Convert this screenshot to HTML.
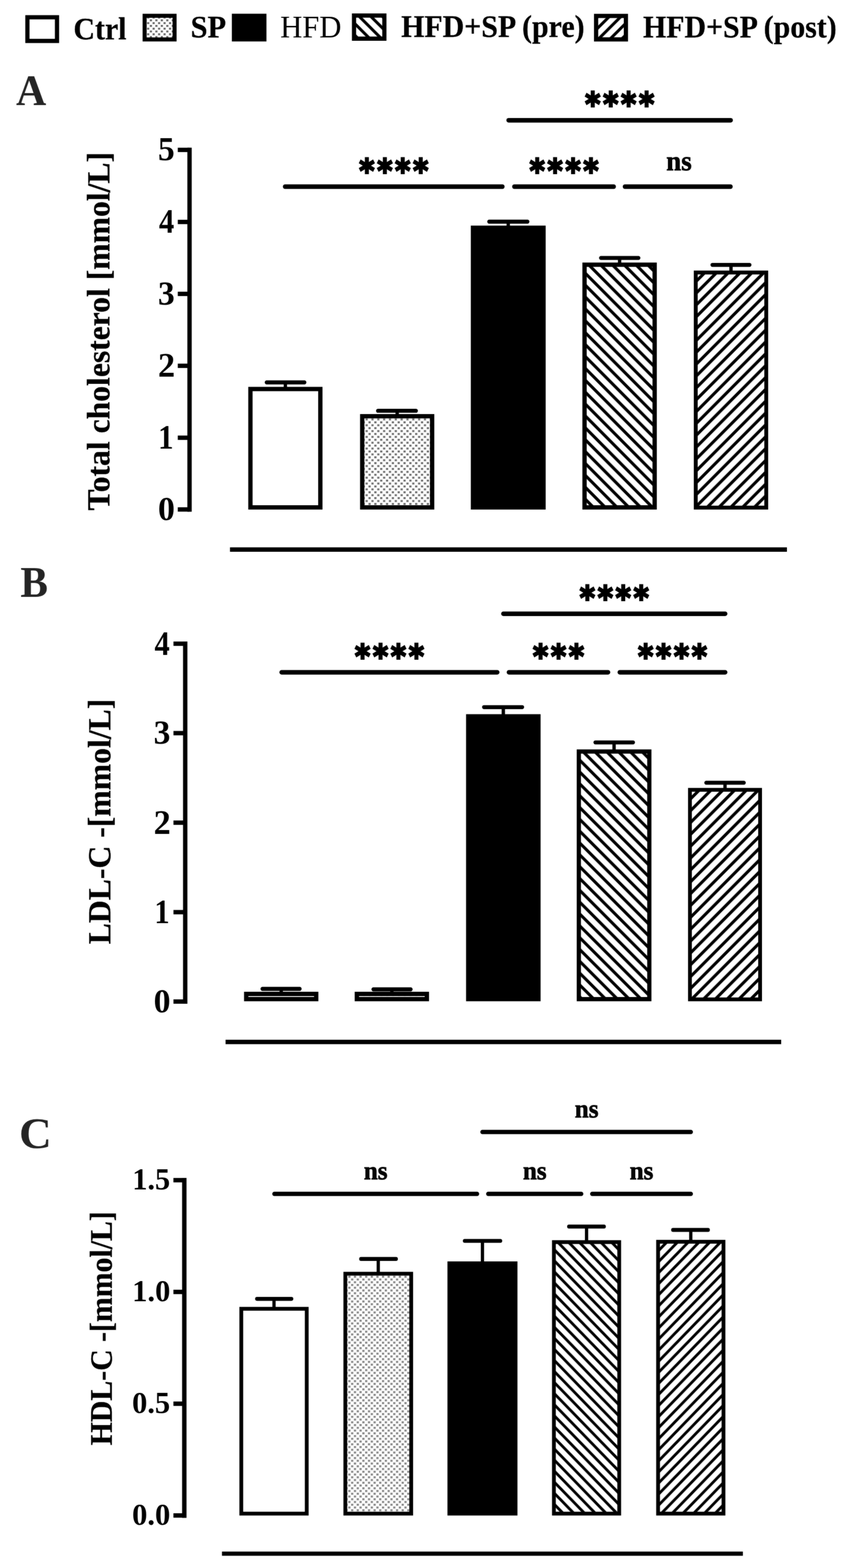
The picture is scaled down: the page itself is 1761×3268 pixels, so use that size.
<!DOCTYPE html>
<html lang="en"><head><meta charset="utf-8"><title>Figure</title>
<style>
html,body{margin:0;padding:0;background:#fff;}
body{width:1761px;height:3268px;overflow:hidden;}
svg{display:block;}
</style></head><body>
<svg width="1761" height="3268" viewBox="0 0 1761 3268">
<defs>

<pattern id="dotsL" width="11.4" height="11.6" patternUnits="userSpaceOnUse" patternTransform="translate(4.45,5.6)"><rect width="11.4" height="11.6" fill="#fff"/><rect width="4.5" height="4.0" fill="#666"/><rect x="5.7" y="5.8" width="4.5" height="4.0" fill="#666"/></pattern>
<pattern id="dotsA" width="12.15" height="12.15" patternUnits="userSpaceOnUse" patternTransform="translate(2.45,3.4)"><rect width="12.15" height="12.15" fill="#fff"/><rect width="4.6" height="4.0" fill="#6a6a6a"/><rect x="6.08" y="6.08" width="4.6" height="4.0" fill="#6a6a6a"/></pattern>
<pattern id="dotsB" width="12.15" height="12.15" patternUnits="userSpaceOnUse" patternTransform="translate(3.05,7.2)"><rect width="12.15" height="12.15" fill="#fff"/><rect width="4.3" height="3.0" fill="#4d4d4d"/><rect x="6.08" y="6.08" width="4.3" height="3.0" fill="#4d4d4d"/></pattern>
<pattern id="dotsC" width="11.7" height="11.45" patternUnits="userSpaceOnUse" patternTransform="translate(0.4,2.5)"><rect width="11.7" height="11.45" fill="#fff"/><rect width="4.6" height="4.2" fill="#858585"/><rect x="5.85" y="5.72" width="4.6" height="4.2" fill="#858585"/></pattern>
<pattern id="h0" width="24.2" height="24.2" patternUnits="userSpaceOnUse" patternTransform="translate(0.7,12.3)"><rect width="24.2" height="24.2" fill="#fff"/><path d="M-24.2,-24.2 L48.4,48.4 M-24.2,0 L24.2,48.4 M0,-24.2 L48.4,24.2" stroke="#000" stroke-width="6"/></pattern>
<pattern id="h1" width="24.2" height="24.2" patternUnits="userSpaceOnUse" patternTransform="translate(8.3,13.4)"><rect width="24.2" height="24.2" fill="#fff"/><path d="M-24.2,24.2 L24.2,-24.2 M-24.2,48.4 L48.4,-24.2 M0,48.4 L48.4,0" stroke="#000" stroke-width="6"/></pattern>
<pattern id="h2" width="24.6" height="24.78" patternUnits="userSpaceOnUse" patternTransform="translate(1.2,11.04)"><rect width="24.6" height="24.78" fill="#fff"/><path d="M-24.6,-24.78 L49.2,49.56 M-24.6,0 L24.6,49.56 M0,-24.78 L49.2,24.78" stroke="#000" stroke-width="6.3"/></pattern>
<pattern id="h3" width="24.6" height="24.7" patternUnits="userSpaceOnUse" patternTransform="translate(13.7,3.9)"><rect width="24.6" height="24.7" fill="#fff"/><path d="M-24.6,24.7 L24.6,-24.7 M-24.6,49.4 L49.2,-24.7 M0,49.4 L49.2,0" stroke="#000" stroke-width="6.3"/></pattern>
<pattern id="h4" width="24.6" height="24.66" patternUnits="userSpaceOnUse" patternTransform="translate(13.8,17.12)"><rect width="24.6" height="24.66" fill="#fff"/><path d="M-24.6,-24.66 L49.2,49.32 M-24.6,0 L24.6,49.32 M0,-24.66 L49.2,24.66" stroke="#000" stroke-width="6.3"/></pattern>
<pattern id="h5" width="24.6" height="24.7" patternUnits="userSpaceOnUse" patternTransform="translate(2.5,19.9)"><rect width="24.6" height="24.7" fill="#fff"/><path d="M-24.6,24.7 L24.6,-24.7 M-24.6,49.4 L49.2,-24.7 M0,49.4 L49.2,0" stroke="#000" stroke-width="6.3"/></pattern>
<pattern id="h6" width="22.4" height="23.07" patternUnits="userSpaceOnUse" patternTransform="translate(1.3,8.86)"><rect width="22.4" height="23.07" fill="#fff"/><path d="M-22.4,-23.07 L44.8,46.14 M-22.4,0 L22.4,46.14 M0,-23.07 L44.8,23.07" stroke="#000" stroke-width="5.8"/></pattern>
<pattern id="h7" width="22.4" height="23.07" patternUnits="userSpaceOnUse" patternTransform="translate(20.2,8.16)"><rect width="22.4" height="23.07" fill="#fff"/><path d="M-22.4,23.07 L22.4,-23.07 M-22.4,46.14 L44.8,-23.07 M0,46.14 L44.8,0" stroke="#000" stroke-width="5.8"/></pattern>
<filter id="soft" filterUnits="userSpaceOnUse" x="0" y="0" width="1761" height="3268" color-interpolation-filters="sRGB"><feGaussianBlur in="SourceGraphic" stdDeviation="0.8" result="b"/><feComposite in="SourceGraphic" in2="b" operator="arithmetic" k1="0" k2="0.68" k3="0.32" k4="0"/></filter>
</defs>
<rect width="1761" height="3268" fill="#fff"/>
<g filter="url(#soft)">
<rect width="1761" height="3268" fill="#fff"/>

<g id="legend">
<rect x="57.1" y="36" width="61.7" height="49.3" fill="#fff" stroke="#000" stroke-width="8.8"/>
<text transform="translate(152.88,81.7) scale(0.9445,1)" font-family='"Liberation Serif", serif' font-size="66" font-weight="bold" fill="#000" stroke="#000" stroke-width="0.4" stroke-linejoin="miter">Ctrl</text>
<rect x="301.4" y="32.9" width="62.4" height="49.3" fill="url(#dotsL)" stroke="#000" stroke-width="8.4"/>
<text transform="translate(397.21,78.3) scale(0.9608,1)" font-family='"Liberation Serif", serif' font-size="66" font-weight="bold" fill="#000" stroke="#000" stroke-width="0.4" stroke-linejoin="miter">SP</text>
<rect x="487.95" y="33.35" width="62.6" height="48.3" fill="#000" stroke="#000" stroke-width="9.5"/>
<text transform="translate(584.09,77.7) scale(0.9656,1)" font-family='"Liberation Serif", serif' font-size="66" font-weight="normal" fill="#000">HFD</text>
<rect x="737.8" y="32.4" width="63.2" height="48.2" fill="url(#h0)" stroke="#000" stroke-width="8.8"/>
<text transform="translate(835.96,77.2) scale(0.9445,1)" font-family='"Liberation Serif", serif' font-size="66" font-weight="bold" fill="#000" stroke="#000" stroke-width="0.4" stroke-linejoin="miter">HFD+SP (pre)</text>
<rect x="1242.3" y="33.2" width="62.1" height="48.9" fill="url(#h1)" stroke="#000" stroke-width="8.8"/>
<text transform="translate(1340.07,77.7) scale(0.9430,1)" font-family='"Liberation Serif", serif' font-size="66" font-weight="bold" fill="#000" stroke="#000" stroke-width="0.4" stroke-linejoin="miter">HFD+SP (post)</text>
</g>
<g id="panelA">
<text transform="translate(33.53,218.55) scale(0.9587,1)" font-family='"Liberation Serif", serif' font-size="90.84" font-weight="bold" fill="#242424">A</text>
<line x1="395" y1="307.8" x2="395" y2="1066.4" stroke="#000" stroke-width="9.1" stroke-linecap="butt"/>
<line x1="370.5" y1="312.4" x2="395" y2="312.4" stroke="#000" stroke-width="9.1" stroke-linecap="butt"/>
<line x1="370.5" y1="462.6" x2="395" y2="462.6" stroke="#000" stroke-width="9.1" stroke-linecap="butt"/>
<line x1="370.5" y1="612.5" x2="395" y2="612.5" stroke="#000" stroke-width="9.1" stroke-linecap="butt"/>
<line x1="370.5" y1="762.4" x2="395" y2="762.4" stroke="#000" stroke-width="9.1" stroke-linecap="butt"/>
<line x1="370.5" y1="912.3" x2="395" y2="912.3" stroke="#000" stroke-width="9.1" stroke-linecap="butt"/>
<line x1="370.5" y1="1061.8" x2="395" y2="1061.8" stroke="#000" stroke-width="9.1" stroke-linecap="butt"/>
<text transform="translate(329.31,334.39) scale(0.9854,1)" font-family='"Liberation Serif", serif' font-size="70.68" font-weight="bold" fill="#000">5</text>
<text transform="translate(331.15,485.3) scale(0.8871,1)" font-family='"Liberation Serif", serif' font-size="71.76" font-weight="bold" fill="#000">4</text>
<text transform="translate(329.31,634.5) scale(0.9928,1)" font-family='"Liberation Serif", serif' font-size="70.15" font-weight="bold" fill="#000">3</text>
<text transform="translate(329.25,785.1) scale(1.0016,1)" font-family='"Liberation Serif", serif' font-size="71.21" font-weight="bold" fill="#000">2</text>
<text transform="translate(329.45,935) scale(0.8964,1)" font-family='"Liberation Serif", serif' font-size="71.76" font-weight="bold" fill="#000">1</text>
<text transform="translate(329.28,1083.8) scale(1.0122,1)" font-family='"Liberation Serif", serif' font-size="69.63" font-weight="bold" fill="#000">0</text>
<text transform="translate(228,1063.99) rotate(-90) scale(0.9700,1)" font-family='"Liberation Serif", serif' font-size="68" font-weight="bold" fill="#000" stroke="#000" stroke-width="0.4">Total cholesterol [mmol/L]</text>
<line x1="594.75" y1="797" x2="594.75" y2="809.3" stroke="#000" stroke-width="7" stroke-linecap="butt"/>
<line x1="555.85" y1="797" x2="634.35" y2="797" stroke="#000" stroke-width="8.3" stroke-linecap="round"/>
<rect x="521.9" y="810.8" width="145.7" height="246.7" fill="#fff" stroke="#000" stroke-width="9"/>
<line x1="827.75" y1="856.2" x2="827.75" y2="866" stroke="#000" stroke-width="7" stroke-linecap="butt"/>
<line x1="787.85" y1="856.2" x2="866.75" y2="856.2" stroke="#000" stroke-width="8.3" stroke-linecap="round"/>
<rect x="754.9" y="867.5" width="145.7" height="190" fill="url(#dotsA)" stroke="#000" stroke-width="9"/>
<line x1="1059.2" y1="462" x2="1059.2" y2="473.2" stroke="#000" stroke-width="7" stroke-linecap="butt"/>
<line x1="1019.55" y1="462" x2="1099.15" y2="462" stroke="#000" stroke-width="8.3" stroke-linecap="round"/>
<rect x="985.7" y="474.7" width="147" height="582.8" fill="#000" stroke="#000" stroke-width="9"/>
<line x1="1291.25" y1="537.6" x2="1291.25" y2="550.2" stroke="#000" stroke-width="7" stroke-linecap="butt"/>
<line x1="1252.55" y1="537.6" x2="1330.45" y2="537.6" stroke="#000" stroke-width="8.3" stroke-linecap="round"/>
<rect x="1218.2" y="551.7" width="146.1" height="505.8" fill="url(#h2)" stroke="#000" stroke-width="9"/>
<line x1="1523.4" y1="552.1" x2="1523.4" y2="566.9" stroke="#000" stroke-width="7" stroke-linecap="butt"/>
<line x1="1484.75" y1="552.1" x2="1561.95" y2="552.1" stroke="#000" stroke-width="8.3" stroke-linecap="round"/>
<rect x="1449.95" y="567.95" width="146.9" height="490" fill="url(#h3)" stroke="#000" stroke-width="8.1"/>
<line x1="479.3" y1="1145.3" x2="1640" y2="1145.3" stroke="#000" stroke-width="9.3" stroke-linecap="butt"/>
<line x1="1060.1" y1="250.7" x2="1522.6" y2="250.7" stroke="#000" stroke-width="9.6" stroke-linecap="round"/>
<text transform="translate(1219.54,241.21) scale(0.8947,1)" font-family='"DejaVu Sans", "Liberation Sans", sans-serif' font-size="67.53" font-weight="bold" letter-spacing="6.48" fill="#000" stroke="#000" stroke-width="3.8" stroke-linejoin="miter">****</text>
<line x1="594.3" y1="389" x2="1046.8" y2="389" stroke="#000" stroke-width="9.6" stroke-linecap="round"/>
<text transform="translate(748.74,379.51) scale(0.8947,1)" font-family='"DejaVu Sans", "Liberation Sans", sans-serif' font-size="67.53" font-weight="bold" letter-spacing="6.48" fill="#000" stroke="#000" stroke-width="3.8" stroke-linejoin="miter">****</text>
<line x1="1072.1" y1="389" x2="1278.8" y2="389" stroke="#000" stroke-width="9.6" stroke-linecap="round"/>
<text transform="translate(1103.64,379.51) scale(0.8947,1)" font-family='"DejaVu Sans", "Liberation Sans", sans-serif' font-size="67.53" font-weight="bold" letter-spacing="6.48" fill="#000" stroke="#000" stroke-width="3.8" stroke-linejoin="miter">****</text>
<line x1="1302.6" y1="389" x2="1522.2" y2="389" stroke="#000" stroke-width="9.6" stroke-linecap="round"/>
<text transform="translate(1388.6,355.21) scale(0.9543,1)" font-family='"Liberation Serif", serif' font-size="58.54" font-weight="bold" fill="#050505" stroke="#050505" stroke-width="1.2" stroke-linejoin="miter">ns</text>
</g>
<g id="panelB">
<text transform="translate(42.41,1244.2) scale(0.9476,1)" font-family='"Liberation Serif", serif' font-size="90.84" font-weight="bold" fill="#242424">B</text>
<line x1="386" y1="1337" x2="386" y2="2092" stroke="#000" stroke-width="9.1" stroke-linecap="butt"/>
<line x1="361.5" y1="1341.6" x2="386" y2="1341.6" stroke="#000" stroke-width="9.1" stroke-linecap="butt"/>
<line x1="361.5" y1="1528" x2="386" y2="1528" stroke="#000" stroke-width="9.1" stroke-linecap="butt"/>
<line x1="361.5" y1="1714.6" x2="386" y2="1714.6" stroke="#000" stroke-width="9.1" stroke-linecap="butt"/>
<line x1="361.5" y1="1901.1" x2="386" y2="1901.1" stroke="#000" stroke-width="9.1" stroke-linecap="butt"/>
<line x1="361.5" y1="2087.4" x2="386" y2="2087.4" stroke="#000" stroke-width="9.1" stroke-linecap="butt"/>
<text transform="translate(322.05,1364.6) scale(0.8841,1)" font-family='"Liberation Serif", serif' font-size="71.76" font-weight="bold" fill="#000">4</text>
<text transform="translate(320.22,1550.3) scale(0.9895,1)" font-family='"Liberation Serif", serif' font-size="70.15" font-weight="bold" fill="#000">3</text>
<text transform="translate(320.16,1737.6) scale(0.9982,1)" font-family='"Liberation Serif", serif' font-size="71.21" font-weight="bold" fill="#000">2</text>
<text transform="translate(321.72,1924.1) scale(0.8851,1)" font-family='"Liberation Serif", serif' font-size="71.76" font-weight="bold" fill="#000">1</text>
<text transform="translate(320.19,2109.7) scale(1.0087,1)" font-family='"Liberation Serif", serif' font-size="69.63" font-weight="bold" fill="#000">0</text>
<text transform="translate(230,1968.09) rotate(-90) scale(0.9716,1)" font-family='"Liberation Serif", serif' font-size="68" font-weight="bold" fill="#000" stroke="#000" stroke-width="0.4">LDL-C -[mmol/L]</text>
<line x1="586.05" y1="2061" x2="586.05" y2="2070" stroke="#000" stroke-width="7" stroke-linecap="butt"/>
<line x1="547.05" y1="2061" x2="624.45" y2="2061" stroke="#000" stroke-width="8.3" stroke-linecap="round"/>
<rect x="513.1" y="2071.5" width="145.9" height="10.8" fill="#fff" stroke="#000" stroke-width="9"/>
<line x1="816.65" y1="2062" x2="816.65" y2="2070" stroke="#000" stroke-width="7" stroke-linecap="butt"/>
<line x1="778.25" y1="2062" x2="855.75" y2="2062" stroke="#000" stroke-width="8.3" stroke-linecap="round"/>
<rect x="743.7" y="2071.5" width="145.9" height="10.8" fill="url(#dotsB)" stroke="#000" stroke-width="9"/>
<line x1="1048.95" y1="1473.8" x2="1048.95" y2="1491.5" stroke="#000" stroke-width="7" stroke-linecap="butt"/>
<line x1="1008.75" y1="1473.8" x2="1088.15" y2="1473.8" stroke="#000" stroke-width="8.3" stroke-linecap="round"/>
<rect x="975.8" y="1493" width="146.3" height="589.3" fill="#000" stroke="#000" stroke-width="9"/>
<line x1="1279.75" y1="1547.3" x2="1279.75" y2="1564.9" stroke="#000" stroke-width="7" stroke-linecap="butt"/>
<line x1="1240.95" y1="1547.3" x2="1319.15" y2="1547.3" stroke="#000" stroke-width="8.3" stroke-linecap="round"/>
<rect x="1206.3" y="1566.3" width="146.9" height="516.1" fill="url(#h4)" stroke="#000" stroke-width="8.8"/>
<line x1="1510.95" y1="1631.4" x2="1510.95" y2="1645.2" stroke="#000" stroke-width="7" stroke-linecap="butt"/>
<line x1="1471.95" y1="1631.4" x2="1550.05" y2="1631.4" stroke="#000" stroke-width="8.3" stroke-linecap="round"/>
<rect x="1437.85" y="1646.15" width="146.2" height="436.7" fill="url(#h5)" stroke="#000" stroke-width="7.9"/>
<line x1="470.1" y1="2171.7" x2="1628" y2="2171.7" stroke="#000" stroke-width="9.3" stroke-linecap="butt"/>
<line x1="1049.2" y1="1279.2" x2="1511.1" y2="1279.2" stroke="#000" stroke-width="9.6" stroke-linecap="round"/>
<text transform="translate(1208.34,1269.71) scale(0.8947,1)" font-family='"DejaVu Sans", "Liberation Sans", sans-serif' font-size="67.53" font-weight="bold" letter-spacing="6.48" fill="#000" stroke="#000" stroke-width="3.8" stroke-linejoin="miter">****</text>
<line x1="587.1" y1="1401.2" x2="1036.1" y2="1401.2" stroke="#000" stroke-width="9.6" stroke-linecap="round"/>
<text transform="translate(739.79,1391.71) scale(0.8947,1)" font-family='"DejaVu Sans", "Liberation Sans", sans-serif' font-size="67.53" font-weight="bold" letter-spacing="6.48" fill="#000" stroke="#000" stroke-width="3.8" stroke-linejoin="miter">****</text>
<line x1="1060.8" y1="1401.2" x2="1267" y2="1401.2" stroke="#000" stroke-width="9.6" stroke-linecap="round"/>
<text transform="translate(1110.79,1391.71) scale(0.8947,1)" font-family='"DejaVu Sans", "Liberation Sans", sans-serif' font-size="67.53" font-weight="bold" letter-spacing="6.48" fill="#000" stroke="#000" stroke-width="3.8" stroke-linejoin="miter">***</text>
<line x1="1291.8" y1="1401.2" x2="1511.1" y2="1401.2" stroke="#000" stroke-width="9.6" stroke-linecap="round"/>
<text transform="translate(1329.64,1391.71) scale(0.8947,1)" font-family='"DejaVu Sans", "Liberation Sans", sans-serif' font-size="67.53" font-weight="bold" letter-spacing="6.48" fill="#000" stroke="#000" stroke-width="3.8" stroke-linejoin="miter">****</text>
</g>
<g id="panelC">
<text transform="translate(39.69,2392.98) scale(1.0270,1)" font-family='"Liberation Serif", serif' font-size="91.64" font-weight="bold" fill="#242424">C</text>
<line x1="384.1" y1="2455" x2="384.1" y2="3163.6" stroke="#000" stroke-width="9.2" stroke-linecap="butt"/>
<line x1="361.4" y1="2459.7" x2="384.1" y2="2459.7" stroke="#000" stroke-width="9.2" stroke-linecap="butt"/>
<line x1="361.4" y1="2692.6" x2="384.1" y2="2692.6" stroke="#000" stroke-width="9.2" stroke-linecap="butt"/>
<line x1="361.4" y1="2925.6" x2="384.1" y2="2925.6" stroke="#000" stroke-width="9.2" stroke-linecap="butt"/>
<line x1="361.4" y1="3158.5" x2="384.1" y2="3158.5" stroke="#000" stroke-width="9.2" stroke-linecap="butt"/>
<text transform="translate(275.65,2478.83) scale(0.9797,1)" font-family='"Liberation Serif", serif' font-size="64.48" font-weight="bold" fill="#000">1.5</text>
<text transform="translate(275.62,2711.75) scale(0.9988,1)" font-family='"Liberation Serif", serif' font-size="63.53" font-weight="bold" fill="#000">1.0</text>
<text transform="translate(275.16,2944.75) scale(1.0007,1)" font-family='"Liberation Serif", serif' font-size="63.53" font-weight="bold" fill="#000">0.5</text>
<text transform="translate(275.15,3177.65) scale(1.0050,1)" font-family='"Liberation Serif", serif' font-size="63.53" font-weight="bold" fill="#000">0.0</text>
<text transform="translate(233.3,3012.23) rotate(-90) scale(0.9403,1)" font-family='"Liberation Serif", serif' font-size="66" font-weight="bold" fill="#000" stroke="#000" stroke-width="0.4">HDL-C -[mmol/L]</text>
<line x1="571.05" y1="2707.1" x2="571.05" y2="2726.8" stroke="#000" stroke-width="6.8" stroke-linecap="butt"/>
<line x1="535.65" y1="2707.1" x2="607.25" y2="2707.1" stroke="#000" stroke-width="8.1" stroke-linecap="round"/>
<rect x="502.85" y="2727.75" width="136.4" height="426.9" fill="#fff" stroke="#000" stroke-width="7.9"/>
<line x1="788.3" y1="2623.9" x2="788.3" y2="2653.7" stroke="#000" stroke-width="6.8" stroke-linecap="butt"/>
<line x1="752.55" y1="2623.9" x2="825.15" y2="2623.9" stroke="#000" stroke-width="8.1" stroke-linecap="round"/>
<rect x="719.65" y="2654.65" width="137.3" height="500" fill="url(#dotsC)" stroke="#000" stroke-width="7.9"/>
<line x1="1005.45" y1="2586.3" x2="1005.45" y2="2632" stroke="#000" stroke-width="6.8" stroke-linecap="butt"/>
<line x1="968.65" y1="2586.3" x2="1042.55" y2="2586.3" stroke="#000" stroke-width="8.1" stroke-linecap="round"/>
<rect x="936.45" y="2632.95" width="138" height="521.7" fill="#000" stroke="#000" stroke-width="7.9"/>
<line x1="1222.4" y1="2556.4" x2="1222.4" y2="2587.8" stroke="#000" stroke-width="6.8" stroke-linecap="butt"/>
<line x1="1185.95" y1="2556.4" x2="1258.55" y2="2556.4" stroke="#000" stroke-width="8.1" stroke-linecap="round"/>
<rect x="1154.35" y="2588.75" width="136.1" height="565.9" fill="url(#h6)" stroke="#000" stroke-width="7.9"/>
<line x1="1439.6" y1="2563.4" x2="1439.6" y2="2587.1" stroke="#000" stroke-width="6.8" stroke-linecap="butt"/>
<line x1="1402.75" y1="2563.4" x2="1475.35" y2="2563.4" stroke="#000" stroke-width="8.1" stroke-linecap="round"/>
<rect x="1371.45" y="2588.05" width="136.3" height="566.6" fill="url(#h7)" stroke="#000" stroke-width="7.9"/>
<line x1="462.6" y1="3238.2" x2="1548.2" y2="3238.2" stroke="#000" stroke-width="8.7" stroke-linecap="butt"/>
<line x1="1005.51" y1="2359.2" x2="1439.59" y2="2359.2" stroke="#000" stroke-width="9.02" stroke-linecap="round"/>
<text transform="translate(1197.79,2328.99) scale(0.9560,1)" font-family='"Liberation Serif", serif' font-size="54.8" font-weight="bold" fill="#050505" stroke="#050505" stroke-width="1.2" stroke-linejoin="miter">ns</text>
<line x1="571.91" y1="2488.3" x2="994.09" y2="2488.3" stroke="#000" stroke-width="9.02" stroke-linecap="round"/>
<text transform="translate(758.24,2458.09) scale(0.9560,1)" font-family='"Liberation Serif", serif' font-size="54.8" font-weight="bold" fill="#050505" stroke="#050505" stroke-width="1.2" stroke-linejoin="miter">ns</text>
<line x1="1017.61" y1="2488.3" x2="1211.19" y2="2488.3" stroke="#000" stroke-width="9.02" stroke-linecap="round"/>
<text transform="translate(1089.64,2458.09) scale(0.9560,1)" font-family='"Liberation Serif", serif' font-size="54.8" font-weight="bold" fill="#050505" stroke="#050505" stroke-width="1.2" stroke-linejoin="miter">ns</text>
<line x1="1234.31" y1="2488.3" x2="1439.59" y2="2488.3" stroke="#000" stroke-width="9.02" stroke-linecap="round"/>
<text transform="translate(1312.19,2458.09) scale(0.9560,1)" font-family='"Liberation Serif", serif' font-size="54.8" font-weight="bold" fill="#050505" stroke="#050505" stroke-width="1.2" stroke-linejoin="miter">ns</text>
</g>
</g>
</svg>
</body></html>
